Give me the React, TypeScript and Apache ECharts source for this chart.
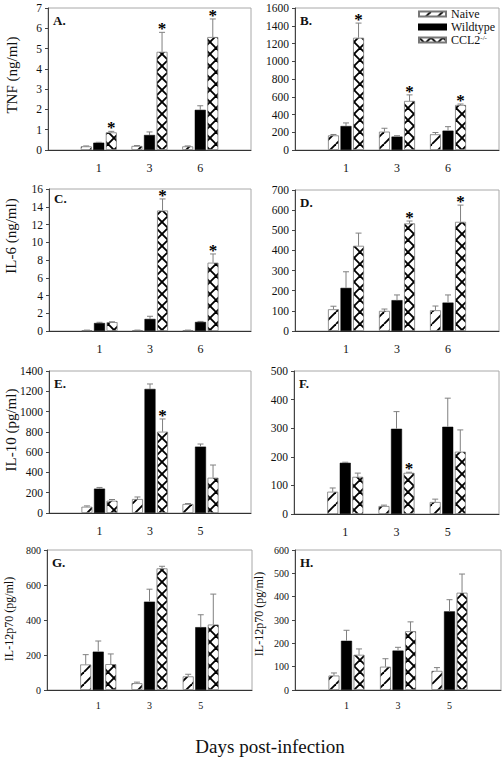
import React, { useEffect, useRef } from 'react';
import * as echarts from 'echarts';

const FONT = '"Liberation Serif", "Times New Roman", serif';

// categories
const daysEarly = ['1', '3', '6'];
const daysLate = ['1', '3', '5'];
const groupNames = ['Naive', 'Wildtype', 'CCL2-/-'];

// A. TNF (ng/ml)
const aNaive = [0.18, 0.2, 0.18];
const aNaiveSd = [0.02, 0.02, 0.02];
const aWt = [0.36, 0.74, 1.98];
const aWtSd = [0.02, 0.15, 0.2];
const aKo = [0.87, 4.84, 5.57];
const aKoSd = [0.05, 0.96, 0.89];
const aStars = [1, 1, 1];

// B. TNF (pg/ml)
const bNaive = [165, 207, 177];
const bNaiveSd = [10, 38, 20];
const bWt = [270, 151, 218];
const bWtSd = [35, 10, 45];
const bKo = [1265, 553, 508];
const bKoSd = [165, 68, 10];
const bStars = [1, 1, 1];

// C. IL-6 (ng/ml)
const cNaive = [0.08, 0.08, 0.08];
const cNaiveSd = [0.02, 0.02, 0.02];
const cWt = [0.9, 1.36, 1.02];
const cWtSd = [0.08, 0.3, 0.06];
const cKo = [1.0, 13.58, 7.7];
const cKoSd = [0.04, 1.3, 0.98];
const cStars = [0, 1, 1];

// D. IL-6 (pg/ml)
const dNaive = [108, 100, 103];
const dNaiveSd = [15, 9, 21];
const dWt = [214, 153, 141];
const dWtSd = [80, 26, 38];
const dKo = [423, 534, 542];
const dKoSd = [63, 12, 83];
const dStars = [0, 1, 1];

// E. IL-10 (pg/ml)
const eNaive = [62, 138, 89];
const eNaiveSd = [8, 20, 4];
const eWt = [240, 1223, 654];
const eWtSd = [12, 49, 26];
const eKo = [121, 802, 348];
const eKoSd = [12, 125, 125];
const eStars = [0, 1, 0];

// F. IL-10 (pg/ml)
const fNaive = [78, 28, 42];
const fNaiveSd = [13, 3, 10];
const fWt = [179, 298, 305];
const fWtSd = [2, 60, 100];
const fKo = [130, 144, 218];
const fKoSd = [13, 2, 76];
const fStars = [0, 1, 0];

// G. IL-12p70 (pg/ml)
const gNaive = [146, 39, 78];
const gNaiveSd = [56, 6, 12];
const gWt = [219, 505, 359];
const gWtSd = [61, 71, 71];
const gKo = [148, 695, 374];
const gKoSd = [58, 12, 174];
const gStars = [0, 0, 0];

// H. IL-12p70 (pg/ml)
const hNaive = [62, 100, 82];
const hNaiveSd = [11, 34, 14];
const hWt = [211, 169, 337];
const hWtSd = [45, 14, 50];
const hKo = [151, 252, 417];
const hKoSd = [25, 40, 80];
const hStars = [0, 0, 0];

// axes
const yMax = [7, 1600, 16, 700, 1400, 500, 800, 600];
const yStep = [1, 200, 2, 100, 200, 100, 200, 100];
const panelLetters = ['A.', 'B.', 'C.', 'D.', 'E.', 'F.', 'G.', 'H.'];

const BAR_W = 11;
const GAP_PCT = 14;
const PITCH = BAR_W * (1 + GAP_PCT / 100);

const layout = [
  { l: 48, t: 8, w: 203, h: 142, small: false },
  { l: 295, t: 8, w: 204, h: 142, small: false },
  { l: 49, t: 189, w: 202, h: 142, small: false },
  { l: 295, t: 190, w: 204, h: 141, small: false },
  { l: 49, t: 371, w: 202, h: 142, small: false },
  { l: 294, t: 371, w: 205, h: 143, small: false },
  { l: 47, t: 550, w: 205, h: 140, small: true },
  { l: 295, t: 550, w: 206, h: 140, small: true },
];

function makeHatch(size: number, both: boolean) {
  const c = document.createElement('canvas');
  c.width = size;
  c.height = size;
  const g = c.getContext('2d')!;
  g.fillStyle = '#ffffff';
  g.fillRect(0, 0, size, size);
  g.strokeStyle = '#000000';
  g.lineWidth = 1.9;
  for (const k of [-size, 0, size]) {
    g.beginPath();
    g.moveTo(k, size);
    g.lineTo(k + size, 0);
    g.stroke();
    if (both) {
      g.beginPath();
      g.moveTo(k, 0);
      g.lineTo(k + size, size);
      g.stroke();
    }
  }
  return { image: c, repeat: 'repeat', imageWidth: size, imageHeight: size } as any;
}

export default function App() {
  const ref = useRef<HTMLDivElement>(null);

  useEffect(() => {
    if (!ref.current) return;
    const chart = echarts.init(ref.current, null, { renderer: 'svg' });

    const naivePat = makeHatch(12, false);
    const koPat = makeHatch(12, true);

    const panels = [
      { days: daysEarly, n: aNaive, nSd: aNaiveSd, w: aWt, wSd: aWtSd, k: aKo, kSd: aKoSd, stars: aStars },
      { days: daysEarly, n: bNaive, nSd: bNaiveSd, w: bWt, wSd: bWtSd, k: bKo, kSd: bKoSd, stars: bStars },
      { days: daysEarly, n: cNaive, nSd: cNaiveSd, w: cWt, wSd: cWtSd, k: cKo, kSd: cKoSd, stars: cStars },
      { days: daysEarly, n: dNaive, nSd: dNaiveSd, w: dWt, wSd: dWtSd, k: dKo, kSd: dKoSd, stars: dStars },
      { days: daysLate, n: eNaive, nSd: eNaiveSd, w: eWt, wSd: eWtSd, k: eKo, kSd: eKoSd, stars: eStars },
      { days: daysLate, n: fNaive, nSd: fNaiveSd, w: fWt, wSd: fWtSd, k: fKo, kSd: fKoSd, stars: fStars },
      { days: daysLate, n: gNaive, nSd: gNaiveSd, w: gWt, wSd: gWtSd, k: gKo, kSd: gKoSd, stars: gStars },
      { days: daysLate, n: hNaive, nSd: hNaiveSd, w: hWt, wSd: hWtSd, k: hKo, kSd: hKoSd, stars: hStars },
    ];

    const grid = layout.map((g) => ({
      left: g.l,
      top: g.t,
      width: g.w,
      height: g.h,
      show: true,
      borderColor: '#a8a8a8',
      borderWidth: 1,
      backgroundColor: 'transparent',
    }));

    const xAxis = panels.map((p, i) => ({
      gridIndex: i,
      type: 'category',
      data: ['', ...p.days, ''],
      boundaryGap: false,
      axisLine: { show: true, lineStyle: { color: '#333', width: 1 } },
      axisTick: { show: false },
      axisLabel: {
        interval: 0,
        color: '#111111',
        fontFamily: FONT,
        fontSize: layout[i].small ? 10 : 12,
        margin: layout[i].small ? 10 : 12,
      },
      splitLine: { show: false },
    }));

    const yAxis = panels.map((p, i) => ({
      gridIndex: i,
      type: 'value',
      min: 0,
      max: yMax[i],
      interval: yStep[i],
      axisLine: { show: true, lineStyle: { color: '#444', width: 1 } },
      axisTick: { show: true, length: 3, lineStyle: { color: '#444' } },
      axisLabel: {
        color: '#111111',
        fontFamily: FONT,
        fontSize: layout[i].small ? 10 : 11.5,
        margin: 6,
        formatter: (v: number) => String(v),
      },
      splitLine: { show: false },
    }));

    const series: any[] = [];
    panels.forEach((p, i) => {
      const common = {
        type: 'bar',
        xAxisIndex: i,
        yAxisIndex: i,
        barWidth: BAR_W,
        barGap: GAP_PCT + '%',
      };
      series.push({
        ...common,
        name: groupNames[0],
        data: p.n.map((v, k) => [k + 1, v]),
        itemStyle: { color: naivePat, borderColor: '#777', borderWidth: 0.8 },
      });
      series.push({
        ...common,
        name: groupNames[1],
        data: p.w.map((v, k) => [k + 1, v]),
        itemStyle: { color: '#000', borderColor: '#000', borderWidth: 0.5 },
      });
      series.push({
        ...common,
        name: groupNames[2],
        data: p.k.map((v, k) => [k + 1, v]),
        itemStyle: { color: koPat, borderColor: '#777', borderWidth: 0.8 },
      });
      const errData: number[][] = [];
      const means = [p.n, p.w, p.k];
      const sds = [p.nSd, p.wSd, p.kSd];
      means.forEach((arr, s) => {
        arr.forEach((v, k) => {
          errData.push([k + 1, v, v + sds[s][k], s, s === 2 ? p.stars[k] : 0]);
        });
      });
      series.push({
        type: 'custom',
        xAxisIndex: i,
        yAxisIndex: i,
        z: 5,
        silent: true,
        encode: { x: 0, y: [1, 2] },
        data: errData,
        renderItem: (params: any, api: any) => {
          const x = api.value(0);
          const mean = api.value(1);
          const top = api.value(2);
          const s = api.value(3);
          const star = api.value(4);
          const base = api.coord([x, mean]);
          const tp = api.coord([x, top]);
          const cx = base[0] + (s - 1) * PITCH;
          const children: any[] = [
            {
              type: 'line',
              shape: { x1: cx, y1: base[1], x2: cx, y2: tp[1] },
              style: { stroke: '#808080', lineWidth: 1 },
            },
            {
              type: 'line',
              shape: { x1: cx - 3, y1: tp[1], x2: cx + 3, y2: tp[1] },
              style: { stroke: '#808080', lineWidth: 1 },
            },
          ];
          if (star) {
            children.push({
              type: 'text',
              x: cx,
              y: tp[1] + 5,
              style: {
                text: '*',
                fill: '#000',
                font: 'bold 17px ' + FONT,
                align: 'center',
                verticalAlign: 'bottom',
              },
            });
          }
          return { type: 'group', children };
        },
      });
    });

    const yTitles = [
      { text: 'TNF (ng/ml)', x: 12, y: 75, size: 15 },
      { text: 'IL-6 (ng/ml)', x: 11, y: 236, size: 15 },
      { text: 'IL-10 (pg/ml)', x: 11, y: 430, size: 15 },
      { text: 'IL-12p70 (pg/ml)', x: 9, y: 619, size: 12 },
      { text: 'IL-12p70 (pg/ml)', x: 259, y: 614, size: 12 },
    ];

    const graphic: any[] = [];
    yTitles.forEach((t) => {
      graphic.push({
        type: 'text',
        x: t.x,
        y: t.y,
        rotation: Math.PI / 2,
        style: {
          text: t.text,
          font: t.size + 'px ' + FONT,
          fill: '#111',
          align: 'center',
          verticalAlign: 'middle',
        },
      });
    });
    panelLetters.forEach((letter, i) => {
      const g = layout[i];
      graphic.push({
        type: 'text',
        x: g.l + 5,
        y: g.t + (i === 2 ? 9 : 12),
        style: {
          text: letter,
          font: 'bold 13px ' + FONT,
          fill: '#111',
          align: 'left',
          verticalAlign: 'middle',
        },
      });
    });
    graphic.push({
      type: 'text',
      x: 270,
      y: 746,
      style: {
        text: 'Days post-infection',
        font: '19px ' + FONT,
        fill: '#111',
        align: 'center',
        verticalAlign: 'middle',
      },
    });

    chart.setOption({
      animation: false,
      backgroundColor: '#fff',
      grid,
      xAxis,
      yAxis,
      series,
      graphic,
      legend: {
        show: true,
        data: groupNames,
        orient: 'vertical',
        left: 418,
        top: 8,
        padding: 0,
        itemWidth: 27,
        itemHeight: 5,
        itemGap: 1,
        selectedMode: false,
        icon: 'rect',
        textStyle: {
          fontFamily: FONT,
          fontSize: 12,
          color: '#111',
          rich: {
            sup: { fontFamily: FONT, fontSize: 7, verticalAlign: 'top', color: '#111' },
          },
        },
        formatter: (name: string) => (name === 'CCL2-/-' ? 'CCL2{sup|-/-}' : name),
      },
    });

    return () => {
      chart.dispose();
    };
  }, []);

  return (
    <div
      ref={ref}
      style={{ position: 'absolute', left: 0, top: 0, width: 504, height: 758, background: '#fff' }}
    />
  );
}
